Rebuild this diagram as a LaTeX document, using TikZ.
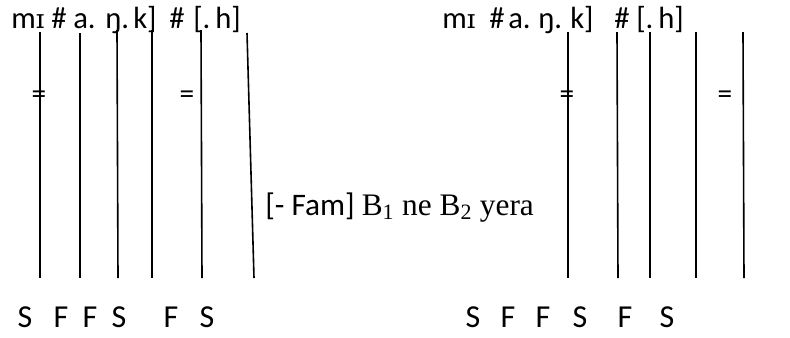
\documentclass[tikz,border=0pt]{standalone}
\usepackage{fontspec}
\setmainfont{Carlito}
\newfontfamily\serifrm{Liberation Serif}
\newfontfamily\ipafont{DejaVu Serif}
\usetikzlibrary{positioning}

\begin{document}
\begin{tikzpicture}[
    x=0.75pt, y=-0.75pt,
    word/.style={inner sep=0pt, anchor=base west, font=\fontsize{23}{27}\selectfont},
    tag/.style={inner sep=0pt, anchor=base, font=\fontsize{24}{28}\selectfont},
    eqsign/.style={inner sep=0pt, font=\fontsize{22}{26}\selectfont},
    note/.style={inner sep=0pt, anchor=base west, font=\fontsize{23.5}{26}\selectfont},
    bar/.style={line width=1.2pt}
]
    \useasboundingbox (0,0) rectangle (790,337);

    % Left transcription
    \node[word] (wl1) at (11,28) {m{\ipafont\fontsize{20}{24}\selectfont ɪ}};
    \node[word] (wl2) at (51,28) {\#};
    \node[word] (wl3) at (73,28) {a.};
    \node[word] (wl4) at (105,28) {ŋ.};
    \node[word] (wl5) at (133,28) {k]};
    \node[word] (wl6) at (169,28) {\#};
    \node[word] (wl7) at (193,28) {[.};
    \node[word] (wl8) at (215,28) {h]};

    % Right transcription
    \node[word] (wr1) at (442,28) {m{\ipafont\fontsize{20}{24}\selectfont ɪ}};
    \node[word] (wr2) at (489,28) {\#};
    \node[word] (wr3) at (508,28) {a.};
    \node[word] (wr4) at (538,28) {ŋ.};
    \node[word] (wr5) at (570,28) {k]};
    \node[word] (wr6) at (614,28) {\#};
    \node[word] (wr7) at (636,28) {[.};
    \node[word] (wr8) at (658,28) {h]};

    % Left tiers
    \coordinate (lt1) at (40,32);   \coordinate (lb1) at (40,278);
    \coordinate (lt2) at (80,33);   \coordinate (lb2) at (80,278);
    \coordinate (lt3) at (117,30);  \coordinate (lb3) at (118,278);
    \coordinate (lt4) at (152,30);  \coordinate (lb4) at (152,278);
    \coordinate (lt5) at (201,30);  \coordinate (lb5) at (202,278);
    \coordinate (lt6) at (247,33);  \coordinate (lb6) at (254,278);

    % Right tiers
    \coordinate (rt1) at (568,32);  \coordinate (rb1) at (568,278);
    \coordinate (rt2) at (617,32);  \coordinate (rb2) at (618,278);
    \coordinate (rt3) at (650,32);  \coordinate (rb3) at (650,278);
    \coordinate (rt4) at (696,32);  \coordinate (rb4) at (696,278);
    \coordinate (rt5) at (743,32);  \coordinate (rb5) at (744,278);

    % Equal signs
    \node[eqsign] (eqa) at (39,97) {=};
    \node[eqsign] (eqb) at (187,97) {=};
    \node[eqsign] (eqc) at (567,97) {=};
    \node[eqsign] (eqd) at (725,97) {=};

    \draw[bar] (lt1) -- (lb1);
    \draw[bar] (lt2) -- (lb2);
    \draw[bar] (lt3) -- (lb3);
    \draw[bar] (lt4) -- (lb4);
    \draw[bar] (lt5) -- (lb5);
    \draw[bar] (lt6) -- (lb6);

    \draw[bar] (rt1) -- (rb1);
    \draw[bar] (rt2) -- (rb2);
    \draw[bar] (rt3) -- (rb3);
    \draw[bar] (rt4) -- (rb4);
    \draw[bar] (rt5) -- (rb5);

    % Middle note
    \node[note] (rule) at (265,215) {[- Fam] {\serifrm B\textsubscript{1} ne B\textsubscript{2} yera}};

    % Syllable labels
    \node[tag] (s1) at (25,327) {S};
    \node[tag] (s2) at (61,327) {F};
    \node[tag] (s3) at (90,327) {F};
    \node[tag] (s4) at (119,327) {S};
    \node[tag] (s5) at (171,327) {F};
    \node[tag] (s6) at (207,327) {S};

    \node[tag] (r1) at (473,327) {S};
    \node[tag] (r2) at (508,327) {F};
    \node[tag] (r3) at (543,327) {F};
    \node[tag] (r4) at (580,327) {S};
    \node[tag] (r5) at (625,327) {F};
    \node[tag] (r6) at (667,327) {S};

\end{tikzpicture}
\end{document}
